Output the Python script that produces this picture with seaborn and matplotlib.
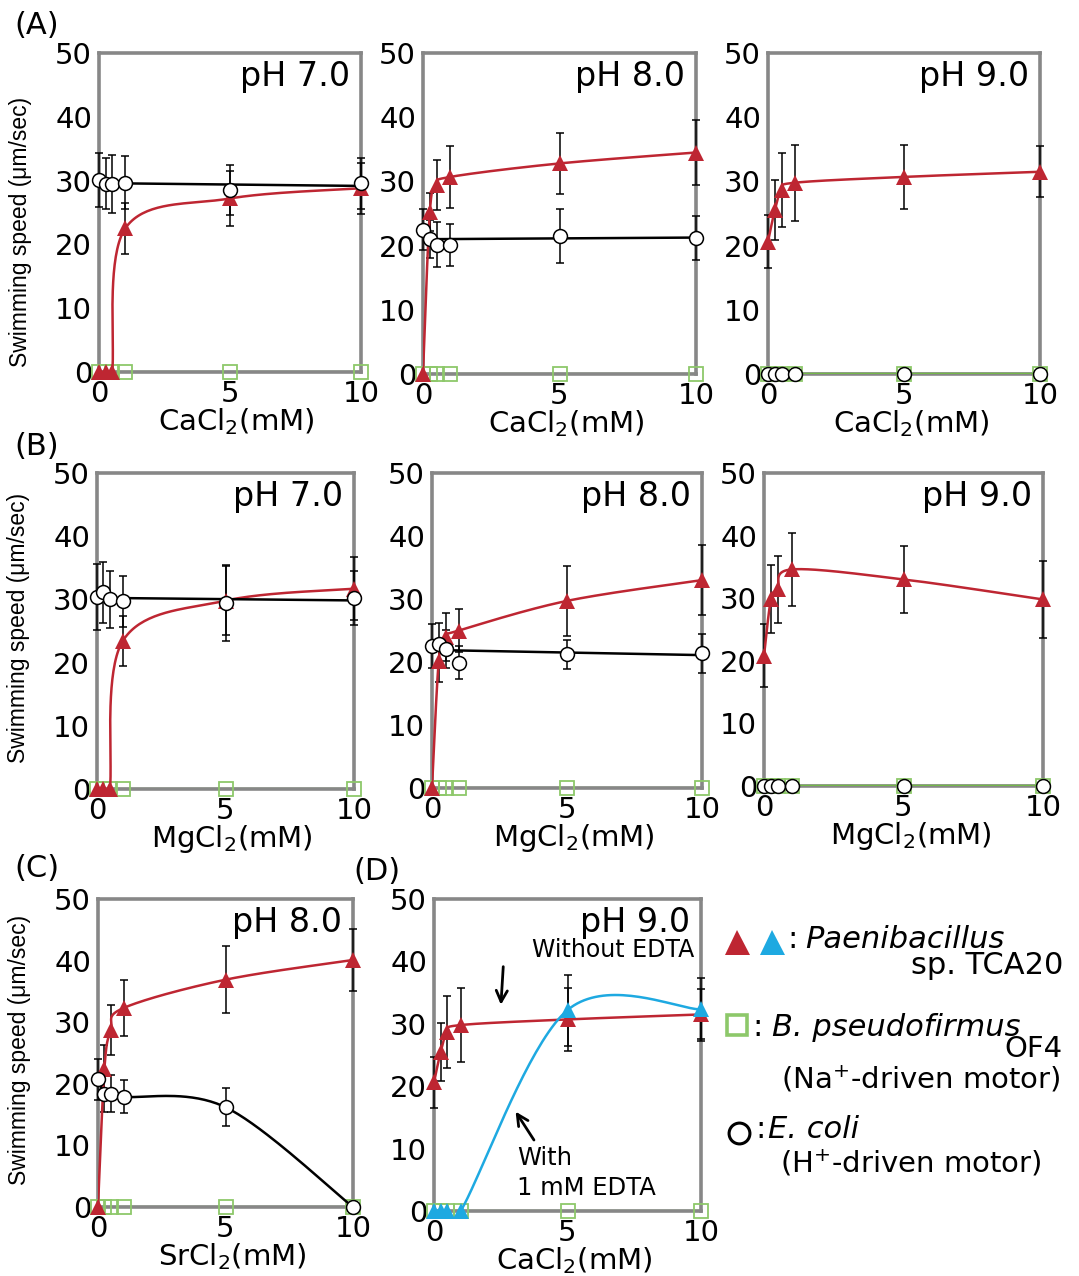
import numpy as np
import matplotlib
matplotlib.use('Agg')
import matplotlib.pyplot as plt
import seaborn as sns

# concentrations (mM)
conc = [0, 0.25, 0.5, 1, 5, 10]

# (A) CaCl2
ca7_pae = [0, 0, 0, 22.5, 27.2, 28.8]
ca7_pae_err = [0, 0, 0, 4.0, 4.3, 4.0]
ca7_eco = [30.1, 29.5, 29.5, 29.7, 28.5, 29.6]
ca7_eco_err = [4.3, 4.0, 4.5, 4.2, 3.9, 4.0]

ca8_pae = [0, 25.2, 29.4, 30.7, 32.8, 34.5]
ca8_pae_err = [0, 3.0, 3.9, 4.8, 4.8, 5.1]
ca8_eco = [22.5, 21.0, 20.1, 20.1, 21.5, 21.2]
ca8_eco_err = [3.2, 3.0, 3.5, 3.2, 4.2, 3.4]

ca9_pae = [20.6, 25.5, 28.7, 29.8, 30.7, 31.5]
ca9_pae_err = [4.1, 4.7, 5.8, 5.9, 5.0, 4.0]
ca9_eco = [0, 0, 0, 0, 0, 0]
ca9_eco_err = [0, 0, 0, 0, 0, 0]

# (B) MgCl2
mg7_pae = [0, 0, 0, 23.4, 29.8, 31.7]
mg7_pae_err = [0, 0, 0, 4.0, 5.5, 5.0]
mg7_eco = [30.4, 31.1, 30.0, 29.7, 29.4, 30.2]
mg7_eco_err = [5.2, 4.8, 4.5, 4.0, 6.0, 4.3]

mg8_pae = [0, 20.2, 24.0, 25.0, 29.7, 33.0]
mg8_pae_err = [0, 3.4, 3.8, 3.4, 5.5, 5.5]
mg8_eco = [22.6, 22.9, 22.1, 19.9, 21.2, 21.4]
mg8_eco_err = [3.5, 3.3, 3.0, 2.6, 2.3, 3.1]

mg9_pae = [20.8, 29.9, 31.4, 34.6, 33.0, 29.8]
mg9_pae_err = [5.0, 5.4, 5.3, 5.8, 5.3, 6.2]
mg9_eco = [0, 0, 0, 0, 0, 0]
mg9_eco_err = [0, 0, 0, 0, 0, 0]

# (C) SrCl2
sr8_pae = [0, 22.4, 28.7, 32.3, 36.9, 40.1]
sr8_pae_err = [0, 3.9, 4.1, 4.6, 5.4, 5.0]
sr8_eco = [20.7, 18.4, 18.4, 17.9, 16.2, 0]
sr8_eco_err = [3.3, 3.0, 3.0, 2.7, 3.1, 0]

# (D) CaCl2 pH 9.0 with 1 mM EDTA
edta_pae = [0, 0, 0, 0, 32.2, 32.3]
edta_pae_err = [0, 0, 0, 0, 5.7, 5.0]

# B. pseudofirmus OF4: no swimming in any condition
of4 = [0, 0, 0, 0, 0, 0]

RED = '#BE2632'
BLUE = '#1EA9E1'
GREEN = '#8DC86A'
GREEN_LINE = '#74B84A'
GRAY = '#878787'

W, H = 1079, 1276
sns.set_theme(style='white')
plt.rcParams['font.family'] = ['DejaVu Sans']
plt.rcParams['mathtext.default'] = 'regular'
plt.rcParams['mathtext.fontset'] = 'dejavusans'
plt.rcParams['text.color'] = 'black'
plt.rcParams['axes.labelcolor'] = 'black'
plt.rcParams['xtick.color'] = 'black'
plt.rcParams['ytick.color'] = 'black'

fig = plt.figure(figsize=(W / 100, H / 100), dpi=100)


def px_axes(l, t, r, b):
    return fig.add_axes([l / W, 1 - b / H, (r - l) / W, (b - t) / H])


def smooth(x, y, w, h, n=40):
    # Excel-like smoothed line (Catmull-Rom / Bezier) in screen-ish space
    P = np.column_stack([np.asarray(x, float) / 10 * w, np.asarray(y, float) / 50 * h])
    Pp = np.vstack([P[0], P, P[-1]])
    t = np.linspace(0, 1, n)[:, None]
    segs = []
    for i in range(len(P) - 1):
        p0, p1, p2, p3 = Pp[i], Pp[i + 1], Pp[i + 2], Pp[i + 3]
        b1 = p1 + (p2 - p0) / 6
        b2 = p2 - (p3 - p1) / 6
        segs.append((1 - t) ** 3 * p1 + 3 * (1 - t) ** 2 * t * b1
                    + 3 * (1 - t) * t ** 2 * b2 + t ** 3 * p2)
    S = np.vstack(segs)
    return S[:, 0] / w * 10, S[:, 1] / h * 50


def errbars(ax, x, y, e, z):
    x, y, e = np.array(x), np.array(y), np.array(e)
    m = e > 0
    ax.errorbar(x[m], y[m], yerr=e[m], fmt='none', ecolor='black', elinewidth=1.1,
                capsize=3, capthick=1.1, zorder=z, clip_on=False)


def panel(box, pae, pae_err, eco, eco_err, ph, xlabel, eco_smooth=False,
          ylab_y=None, edta=None, edta_err=None):
    l, t, r, b = box
    w, h = r - l, b - t
    ax = px_axes(*box)
    x = np.array(conc)

    # B. pseudofirmus
    sns.lineplot(x=[x[0], x[-1]], y=[of4[0], of4[-1]], color=GREEN_LINE, lw=2.5,
                 ax=ax, zorder=2)
    ax.plot(x, of4, 's', ms=10.5, mfc='none', mec=GREEN, mew=1.3, zorder=3, clip_on=False)

    # Paenibacillus
    errbars(ax, x, pae, pae_err, 4)
    sx, sy = smooth(x, pae, w, h)
    sns.lineplot(x=sx, y=sy, sort=False, estimator=None, color=RED, lw=1.8, ax=ax, zorder=5)
    ax.plot(x, pae, '^', ms=11.5, color=RED, mec=RED, mew=0, zorder=6, clip_on=False)

    # E. coli
    if eco is not None:
        errbars(ax, x, eco, eco_err, 4)
        if eco_smooth:
            ex, ey = smooth(x, eco, w, h)
        else:
            k = np.polyfit(x, eco, 1)
            ex, ey = np.array([0, 10]), np.polyval(k, [0, 10])
        sns.lineplot(x=ex, y=ey, sort=False, estimator=None, color='black', lw=1.8,
                     ax=ax, zorder=7)
        if not np.any(eco):
            sns.lineplot(x=[x[0], x[-1]], y=[of4[0], of4[-1]], color=GREEN_LINE, lw=2.5,
                         ax=ax, zorder=7.5)
        ax.plot(x, eco, 'o', ms=10, mfc='white', mec='black', mew=1.1, zorder=8,
                clip_on=False)

    # with EDTA
    if edta is not None:
        errbars(ax, x, edta, edta_err, 4)
        bx, by = smooth(x, edta, w, h)
        sns.lineplot(x=bx, y=by, sort=False, estimator=None, color=BLUE, lw=1.8,
                     ax=ax, zorder=9)
        ax.plot(x, edta, '^', ms=11.5, color=BLUE, mec=BLUE, mew=0, zorder=10, clip_on=False)

    ax.set_xlim(0, 10)
    ax.set_ylim(0, 50)
    ax.set_xticks([0, 5, 10])
    ax.set_yticks([0, 10, 20, 30, 40, 50])
    ax.tick_params(direction='in', length=7, width=2, color=GRAY, labelsize=21,
                   labelcolor='black')
    ax.tick_params(axis='y', pad=5)
    ax.tick_params(axis='x', pad=6)
    for s in ax.spines.values():
        s.set_color(GRAY)
        s.set_linewidth(2.6)
        s.set_visible(True)
    ax.set_xlabel(xlabel, fontsize=21, color='black')
    ax.xaxis.set_label_coords(0.525, -34 / h)
    ax.set_ylabel('')
    if ylab_y is not None:
        ax.set_ylabel('Swimming speed (μm/sec)', fontsize=16.5, color='black',
                      family=['Liberation Sans Narrow', 'Liberation Sans', 'DejaVu Sans'])
        ax.yaxis.set_label_coords(-67 / w, ylab_y)
    ax.annotate(ph, xy=(1, 1), xycoords='axes fraction', xytext=(-8, -24),
                textcoords='offset points', ha='right', va='baseline', fontsize=24)
    return ax


ca = 'CaCl$_2$(mM)'
mg = 'MgCl$_2$(mM)'
sr = 'SrCl$_2$(mM)'

panel((99, 53, 361, 372), ca7_pae, ca7_pae_err, ca7_eco, ca7_eco_err, 'pH 7.0', ca, ylab_y=0.44)
panel((423, 53, 696, 374), ca8_pae, ca8_pae_err, ca8_eco, ca8_eco_err, 'pH 8.0', ca)
panel((768, 53, 1040, 374), ca9_pae, ca9_pae_err, ca9_eco, ca9_eco_err, 'pH 9.0', ca)

panel((97, 473, 354, 789), mg7_pae, mg7_pae_err, mg7_eco, mg7_eco_err, 'pH 7.0', mg, ylab_y=0.51)
panel((432, 473, 702, 788), mg8_pae, mg8_pae_err, mg8_eco, mg8_eco_err, 'pH 8.0', mg)
panel((764, 473, 1043, 786), mg9_pae, mg9_pae_err, mg9_eco, mg9_eco_err, 'pH 9.0', mg)

panel((98, 899, 353, 1207), sr8_pae, sr8_pae_err, sr8_eco, sr8_eco_err, 'pH 8.0', sr,
      eco_smooth=True, ylab_y=0.51)
axd = panel((434, 899, 701, 1211), ca9_pae, ca9_pae_err, None, None, 'pH 9.0', ca,
            edta=edta_pae, edta_err=edta_pae_err)

axd.text(9.75, 40.7, 'Without EDTA', ha='right', va='baseline', fontsize=17)
axd.annotate('', xy=(2.5, 32.6), xytext=(2.6, 39.6),
             arrowprops=dict(arrowstyle='->', color='black', lw=2, mutation_scale=20))
axd.text(3.1, 7.3, 'With', ha='left', va='baseline', fontsize=17.5)
axd.text(3.1, 2.5, '1 mM EDTA', ha='left', va='baseline', fontsize=17.5)
axd.annotate('', xy=(3.0, 16.3), xytext=(3.8, 11.0),
             arrowprops=dict(arrowstyle='->', color='black', lw=2, mutation_scale=20))

# overlay in pixel coordinates for panel letters and the key
ov = fig.add_axes([0, 0, 1, 1], zorder=20)
ov.set_xlim(0, W)
ov.set_ylim(H, 0)
ov.axis('off')
ov.patch.set_alpha(0)

for lab, xx, yy in [('(A)', 14, 34), ('(B)', 14, 455), ('(C)', 14, 877), ('(D)', 353, 880)]:
    ov.text(xx, yy, lab, fontsize=22, ha='left', va='baseline')

ov.plot([737], [942], '^', ms=18, color=RED, mew=0)
ov.plot([772], [942], '^', ms=18, color=BLUE, mew=0)
ov.text(787, 948, ':', fontsize=22, ha='left', va='baseline')
ov.text(805, 948, 'Paenibacillus', fontsize=22, style='italic', ha='left', va='baseline')
ov.text(1063, 974, 'sp. TCA20', fontsize=22, ha='right', va='baseline')

ov.plot([737], [1025], 's', ms=15, mfc='none', mec=GREEN, mew=2.6)
ov.text(752, 1036, ':', fontsize=22, ha='left', va='baseline')
ov.text(772, 1036, 'B. pseudofirmus', fontsize=22, style='italic', ha='left', va='baseline')
ov.text(1063, 1057, 'OF4', fontsize=21, ha='right', va='baseline')
ov.text(1060, 1089, '(Na$^{+}$-driven motor)', fontsize=21, ha='right', va='baseline')

ov.plot([739], [1133], 'o', ms=15, mfc='none', mec='black', mew=2.2)
ov.text(755, 1138, ':', fontsize=22, ha='left', va='baseline')
ov.text(768, 1138, 'E. coli', fontsize=22, style='italic', ha='left', va='baseline')
ov.text(1042, 1172, '(H$^{+}$-driven motor)', fontsize=21, ha='right', va='baseline')

fig.savefig('out.png', dpi=100, facecolor='white')
